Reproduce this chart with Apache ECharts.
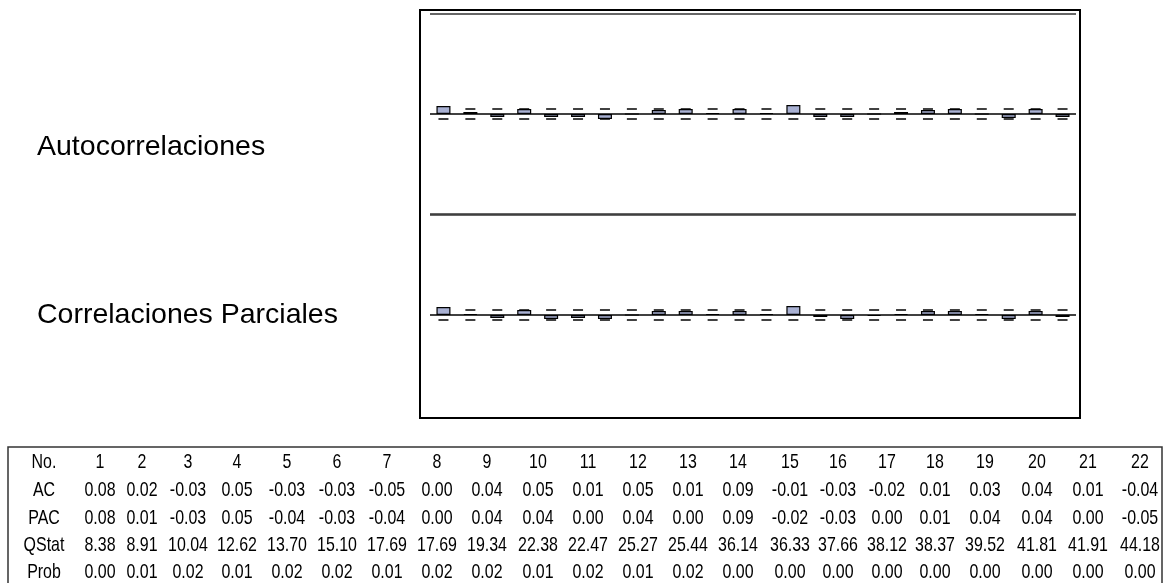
<!DOCTYPE html>
<html><head><meta charset="utf-8">
<script src="https://cdn.jsdelivr.net/npm/echarts@6/dist/echarts.min.js"></script>
<style>html,body{margin:0;padding:0;background:#fff}#c{width:1164px;height:583px}</style>
</head><body><div id="c"></div>
<script>
// ---- chart data (24 lags drawn) ----
const chartLags = ['1','2','3','4','5','6','7','8','9','10','11','12','13','14','15','16','17','18','19','20','21','22','23','24'];
const acBars  = [0.08,0.02,-0.03,0.05,-0.03,-0.03,-0.05,0.00,0.04,0.05,0.01,0.05,0.01,0.09,-0.03,-0.03,0.00,0.02,0.04,0.05,0.00,-0.04,0.05,-0.03];
const pacBars = [0.08,0.01,-0.03,0.05,-0.04,-0.03,-0.04,0.00,0.04,0.04,0.01,0.04,0.01,0.09,-0.02,-0.04,-0.01,0.01,0.04,0.04,0.01,-0.04,0.04,-0.02];
const confBand = 0.05;

// ---- table data ----
const rowLabels = ['No.','AC','PAC','QStat','Prob'];
const tableLags = [1,2,3,4,5,6,7,8,9,10,11,12,13,14,15,16,17,18,19,20,21,22];
const acTable  = [0.08,0.02,-0.03,0.05,-0.03,-0.03,-0.05,0.00,0.04,0.05,0.01,0.05,0.01,0.09,-0.01,-0.03,-0.02,0.01,0.03,0.04,0.01,-0.04];
const pacTable = [0.08,0.01,-0.03,0.05,-0.04,-0.03,-0.04,0.00,0.04,0.04,0.00,0.04,0.00,0.09,-0.02,-0.03,0.00,0.01,0.04,0.04,0.00,-0.05];
const qStat    = [8.38,8.91,10.04,12.62,13.70,15.10,17.69,17.69,19.34,22.38,22.47,25.27,25.44,36.14,36.33,37.66,38.12,38.37,39.52,41.81,41.91,44.18];
const prob     = [0.00,0.01,0.02,0.01,0.02,0.02,0.01,0.02,0.02,0.01,0.02,0.01,0.02,0.00,0.00,0.00,0.00,0.00,0.00,0.00,0.00,0.00];

// ---- layout ----
const colX = [100,142,188,237,287,337,387,437,487,538,588,638,688,738,790,838,887,935,985,1037,1088,1140];
const rowY = [462,490,518,545,572];
const labelX = 44;
const tableFont = '21px "Liberation Sans", Arial, sans-serif';
const squeeze = 0.76;

const chart = echarts.init(document.getElementById('c'), null, {renderer:'canvas'});

const barColor = '#a9b1d3';
function yAx(idx, colors){
  return {gridIndex:idx, min:-1, max:1, interval:1,
    axisLabel:{show:false}, axisTick:{show:false}, axisLine:{show:false},
    splitLine:{show:true, lineStyle:{color:colors, width:1.6}}};
}
function xAx(idx){
  return {gridIndex:idx, type:'category', data:chartLags, boundaryGap:true,
    axisLabel:{show:false}, axisTick:{show:false}, axisLine:{show:false}, splitLine:{show:false}};
}
function bandSeries(idx, sign){
  return {type:'scatter', xAxisIndex:idx, yAxisIndex:idx, symbol:'rect', symbolSize:[10,2],
    itemStyle:{color:'#111'}, z:1, silent:true,
    data: chartLags.map(()=>sign*confBand)};
}
function barSeries(idx, data){
  return {type:'bar', xAxisIndex:idx, yAxisIndex:idx, data:data, barWidth:14, z:3,
    itemStyle:{color:barColor, borderColor:'#000', borderWidth:1.2}};
}

const fmt = v => v.toFixed(2);
const rows = [tableLags.map(String), acTable.map(fmt), pacTable.map(fmt), qStat.map(fmt), prob.map(fmt)];
const tableTexts = [];
function cell(x, y, t){
  return {type:'text', x:x, y:y, scaleX:squeeze, style:{text:t, font:tableFont, fill:'#000', align:'center', verticalAlign:'middle'}};
}
rows.forEach((r, ri) => {
  tableTexts.push(cell(labelX, rowY[ri], rowLabels[ri]));
  r.forEach((t, ci) => tableTexts.push(cell(colX[ci], rowY[ri], t)));
});

chart.setOption({
  animation:false,
  backgroundColor:'#fff',
  grid:[{left:430, width:646, top:14, height:200},{left:430, width:646, top:215, height:200}],
  xAxis:[xAx(0), xAx(1)],
  yAxis:[yAx(0, ['#333','#000','#333']), yAx(1, ['rgba(0,0,0,0)','#000','#333'])],
  series:[bandSeries(0,1), bandSeries(0,-1), barSeries(0, acBars),
          bandSeries(1,1), bandSeries(1,-1), barSeries(1, pacBars)],
  graphic:[
    {type:'rect', shape:{x:420, y:10, width:660, height:408}, style:{fill:null, stroke:'#000', lineWidth:2}, z:10},
    {type:'text', x:37, y:147, style:{text:'Autocorrelaciones', font:'28.5px "Liberation Sans", Arial, sans-serif', fill:'#000', verticalAlign:'middle'}},
    {type:'text', x:37, y:315, style:{text:'Correlaciones Parciales', font:'28.5px "Liberation Sans", Arial, sans-serif', fill:'#000', verticalAlign:'middle'}},
    {type:'rect', shape:{x:8, y:447, width:1154, height:140}, style:{fill:null, stroke:'#333', lineWidth:1.5}},
    ...tableTexts
  ]
});
</script></body></html>
